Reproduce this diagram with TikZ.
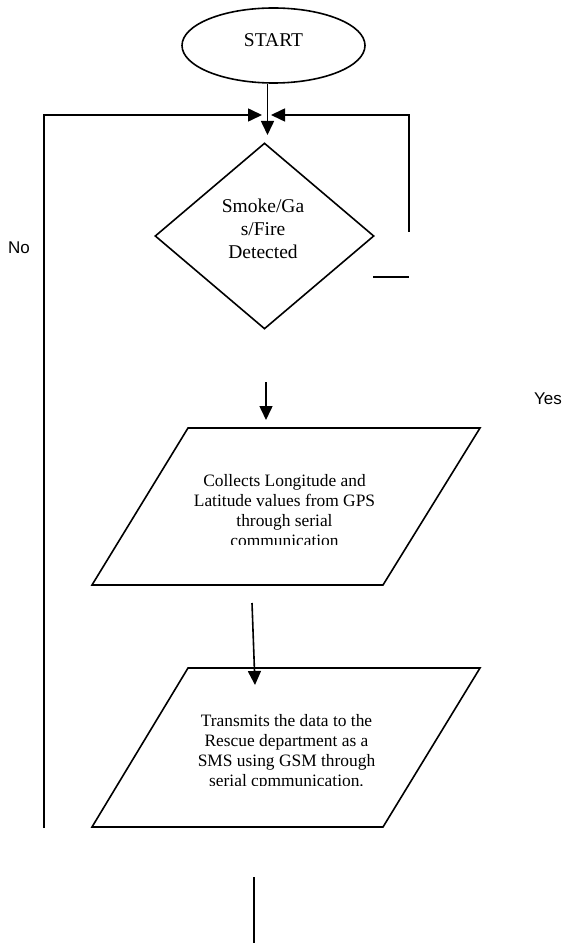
\documentclass[tikz,border=0pt]{standalone}
\usepackage{fontspec}
\setmainfont{Liberation Serif}
\newfontfamily\labfont{Liberation Sans}
\usetikzlibrary{arrows.meta,shapes.geometric}
\begin{document}
\begin{tikzpicture}[x=1pt,y=-1pt,
  line width=1.6pt,
  arr/.style={-{Triangle[length=14pt,width=13pt]}},
  bigtext/.style={font=\fontsize{19.5}{23}\selectfont, align=center, inner sep=0pt},
  ptext/.style={font=\fontsize{17.4}{20}\selectfont, align=center, inner sep=0pt},
  lab/.style={font=\labfont\fontsize{17}{20}\selectfont, inner sep=0pt}]
\useasboundingbox (0,0) rectangle (566,949);

% START
\node[draw, ellipse, minimum width=183pt, minimum height=75pt, inner sep=0pt,
      font=\fontsize{19.5}{23}\selectfont, text height=13pt, text depth=10pt]
      (start) at (273.5,45.5) {START};

% decision
\node[draw, diamond, minimum width=219pt, minimum height=186pt, inner sep=0pt] (dia) at (264.5,236) {};
\node[bigtext] (dtext) at (263,229) {Smoke/Ga\\s/Fire\\Detected};

% parallelogram 1
\coordinate (p1a) at (188,428);
\coordinate (p1b) at (480,428);
\coordinate (p1c) at (383,585);
\coordinate (p1d) at (92,585);
\draw (p1a) -- (p1b) -- (p1c) -- (p1d) -- cycle;
\begin{scope}
  \clip (90,428) rectangle (480,544);
  \node[ptext] (t1) at (284.5,511) {Collects Longitude and\\Latitude values from GPS\\through serial\\communication};
\end{scope}

% parallelogram 2
\coordinate (p2a) at (188,668);
\coordinate (p2b) at (480,668);
\coordinate (p2c) at (383,827);
\coordinate (p2d) at (92,827);
\draw (p2a) -- (p2b) -- (p2c) -- (p2d) -- cycle;
\begin{scope}
  \clip (90,668) rectangle (480,785);
  \node[ptext] (t2) at (286.5,752) {Transmits the data to the\\Rescue department as a\\SMS using GSM through\\serial cpmmunication.};
\end{scope}

% junction and loops
\coordinate (jd) at (267.5,135);
\coordinate (jl) at (262,115);
\coordinate (jr) at (271,115);
\draw[arr] (start.south -| jd) -- (jd);
\coordinate (lb) at (44,828);
\draw[arr] (lb) |- (jl);
\coordinate (rb) at (409,232);
\draw[arr] (rb) |- (jr);
\coordinate (ya) at (373,277);
\coordinate (yb) at (409,277);
\draw (ya) -- (yb);

% arrows between blocks
\coordinate (a1s) at (266,382);
\coordinate (a1e) at (266,420);
\draw[arr] (a1s) -- (a1e);
\coordinate (a2s) at (252,603);
\coordinate (a2e) at (255,685);
\draw[arr] (a2s) -- (a2e);
\coordinate (b1) at (254,877);
\coordinate (b2) at (254,943);
\draw (b1) -- (b2);

% labels
\node[lab] (no) at (19,247.5) {No};
\node[lab] (yes) at (548,398.5) {Yes};
\end{tikzpicture}
\end{document}
